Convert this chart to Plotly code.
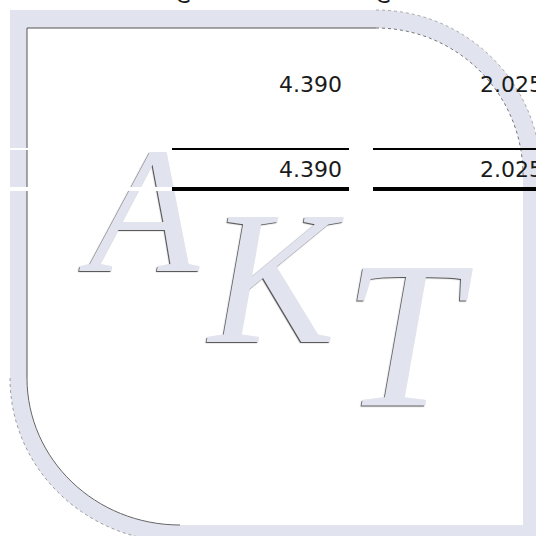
#!/usr/bin/env python3
"""
plot.py - table fragment over the AKT watermark
"""

import plotly.graph_objects as go

# data ------------------------------------------------------------
header_labels = ["C", "C"]
col1_values = [4.390, 4.390]
col2_values = [2.025, 2.025]
logo_letters = ["A", "K", "T"]

# layout constants (pixel-like units, y grows downwards) ----------
W = H = 536
BAND = "#E1E4EF"
INK = "#1a1a1a"
K = 0.5523  # bezier quarter-circle constant

col1_right = 342              # col 1 numbers are right aligned here
col2_left = 480               # col 2 runs off the page, anchor its left side
row_y = [86, 171]             # text centre of each row
header_x = [183, 383]
rule_y = [149, 189]
rule_w = [2, 4]
rule_x = [(172, 349), (373, 545)]
logo_x = [144, 272, 402]
logo_y = [226, 294, 353]
logo_size = [180, 190, 210]


def frame_path(l, t, r, b, tr, bl):
    # top-right corner radius tr=(rx, ry), bottom-left corner bl=(rx, ry)
    trx, try_ = tr
    blx, bly = bl
    x0 = r - trx
    y0 = t + try_
    x1 = l + blx
    y1 = b - bly
    return (
        f"M{l},{t} L{x0},{t} "
        f"C{x0 + K * trx},{t} {r},{y0 - K * try_} {r},{y0} "
        f"L{r},{b} L{x1},{b} "
        f"C{x1 - K * blx},{b} {l},{y1 + K * bly} {l},{y1} Z"
    )


fig = go.Figure()

# logo letters
fig.add_trace(go.Scatter(
    x=logo_x, y=logo_y, mode="text",
    text=logo_letters,
    textposition="middle center",
    textfont=dict(family="Liberation Serif", style="italic",
                  size=logo_size, color=BAND,
                  shadow="-1px 1px 1px rgba(40,40,40,0.85)"),
    hoverinfo="skip", cliponaxis=False,
))

# table values
fig.add_trace(go.Scatter(
    x=[col1_right] * len(col1_values), y=row_y, mode="text",
    text=[f"{v:.3f}" for v in col1_values],
    textposition="middle left",
    textfont=dict(family="DejaVu Sans", size=22, color=INK),
    hoverinfo="skip", cliponaxis=False,
))
fig.add_trace(go.Scatter(
    x=[col2_left] * len(col2_values), y=row_y, mode="text",
    text=[f"{v:.3f}" for v in col2_values],
    textposition="middle right",
    textfont=dict(family="DejaVu Sans", size=22, color=INK),
    hoverinfo="skip", cliponaxis=False,
))

# column headers, cut by the top of the page
fig.add_trace(go.Scatter(
    x=header_x, y=[8, 8], mode="text",
    text=header_labels,
    textposition="top center",
    textfont=dict(family="DejaVu Sans", size=22, color=INK),
    hoverinfo="skip", cliponaxis=False,
))

shapes = []
# watermark frame band
outer = frame_path(10, 10, 541, 542, (165, 165), (170, 164))
inner = frame_path(27, 28, 523, 525, (147, 147), (153, 147))
shapes.append(dict(type="path", path=outer + " " + inner, fillrule="evenodd",
                   fillcolor=BAND, line=dict(width=0), layer="below"))
# thin dark edges of the frame
shapes.append(dict(type="path", path="M27,378 L27,28 L376,28",
                   line=dict(color="#555555", width=1), layer="below"))
shapes.append(dict(type="path", path=f"M376,28 C{376 + K * 147},28 523,{175 - K * 147} 523,175",
                   line=dict(color="#777777", width=1, dash="dot"), layer="below"))
shapes.append(dict(type="path", path=f"M376,10 C{376 + K * 165},10 541,{175 - K * 165} 541,175",
                   line=dict(color="#999999", width=0.8, dash="dot"), layer="below"))
shapes.append(dict(type="path", path=f"M10,378 C10,{378 + K * 164} {180 - K * 170},542 180,542",
                   line=dict(color="#888888", width=0.8, dash="dot"), layer="below"))
shapes.append(dict(type="path", path=f"M27,378 C27,{378 + K * 147} {180 - K * 153},525 180,525",
                   line=dict(color="#666666", width=1), layer="below"))

# table rules: white in the first column, black elsewhere
for y, w in zip(rule_y, rule_w):
    shapes.append(dict(type="line", x0=10, x1=rule_x[0][0], y0=y, y1=y,
                       line=dict(color="white", width=w), layer="above"))
    for xa, xb in rule_x:
        shapes.append(dict(type="line", x0=xa, x1=xb, y0=y, y1=y,
                           line=dict(color="black", width=w), layer="above"))

fig.update_layout(
    width=W, height=H, autosize=False,
    margin=dict(l=0, r=0, t=0, b=0),
    paper_bgcolor="white", plot_bgcolor="white",
    showlegend=False,
    shapes=shapes,
    xaxis=dict(range=[0, W], visible=False, fixedrange=True),
    yaxis=dict(range=[H, 0], visible=False, fixedrange=True),
)

fig.write_html("out.html", config={"displayModeBar": False},
               post_script="document.body.style.margin='0px';")
